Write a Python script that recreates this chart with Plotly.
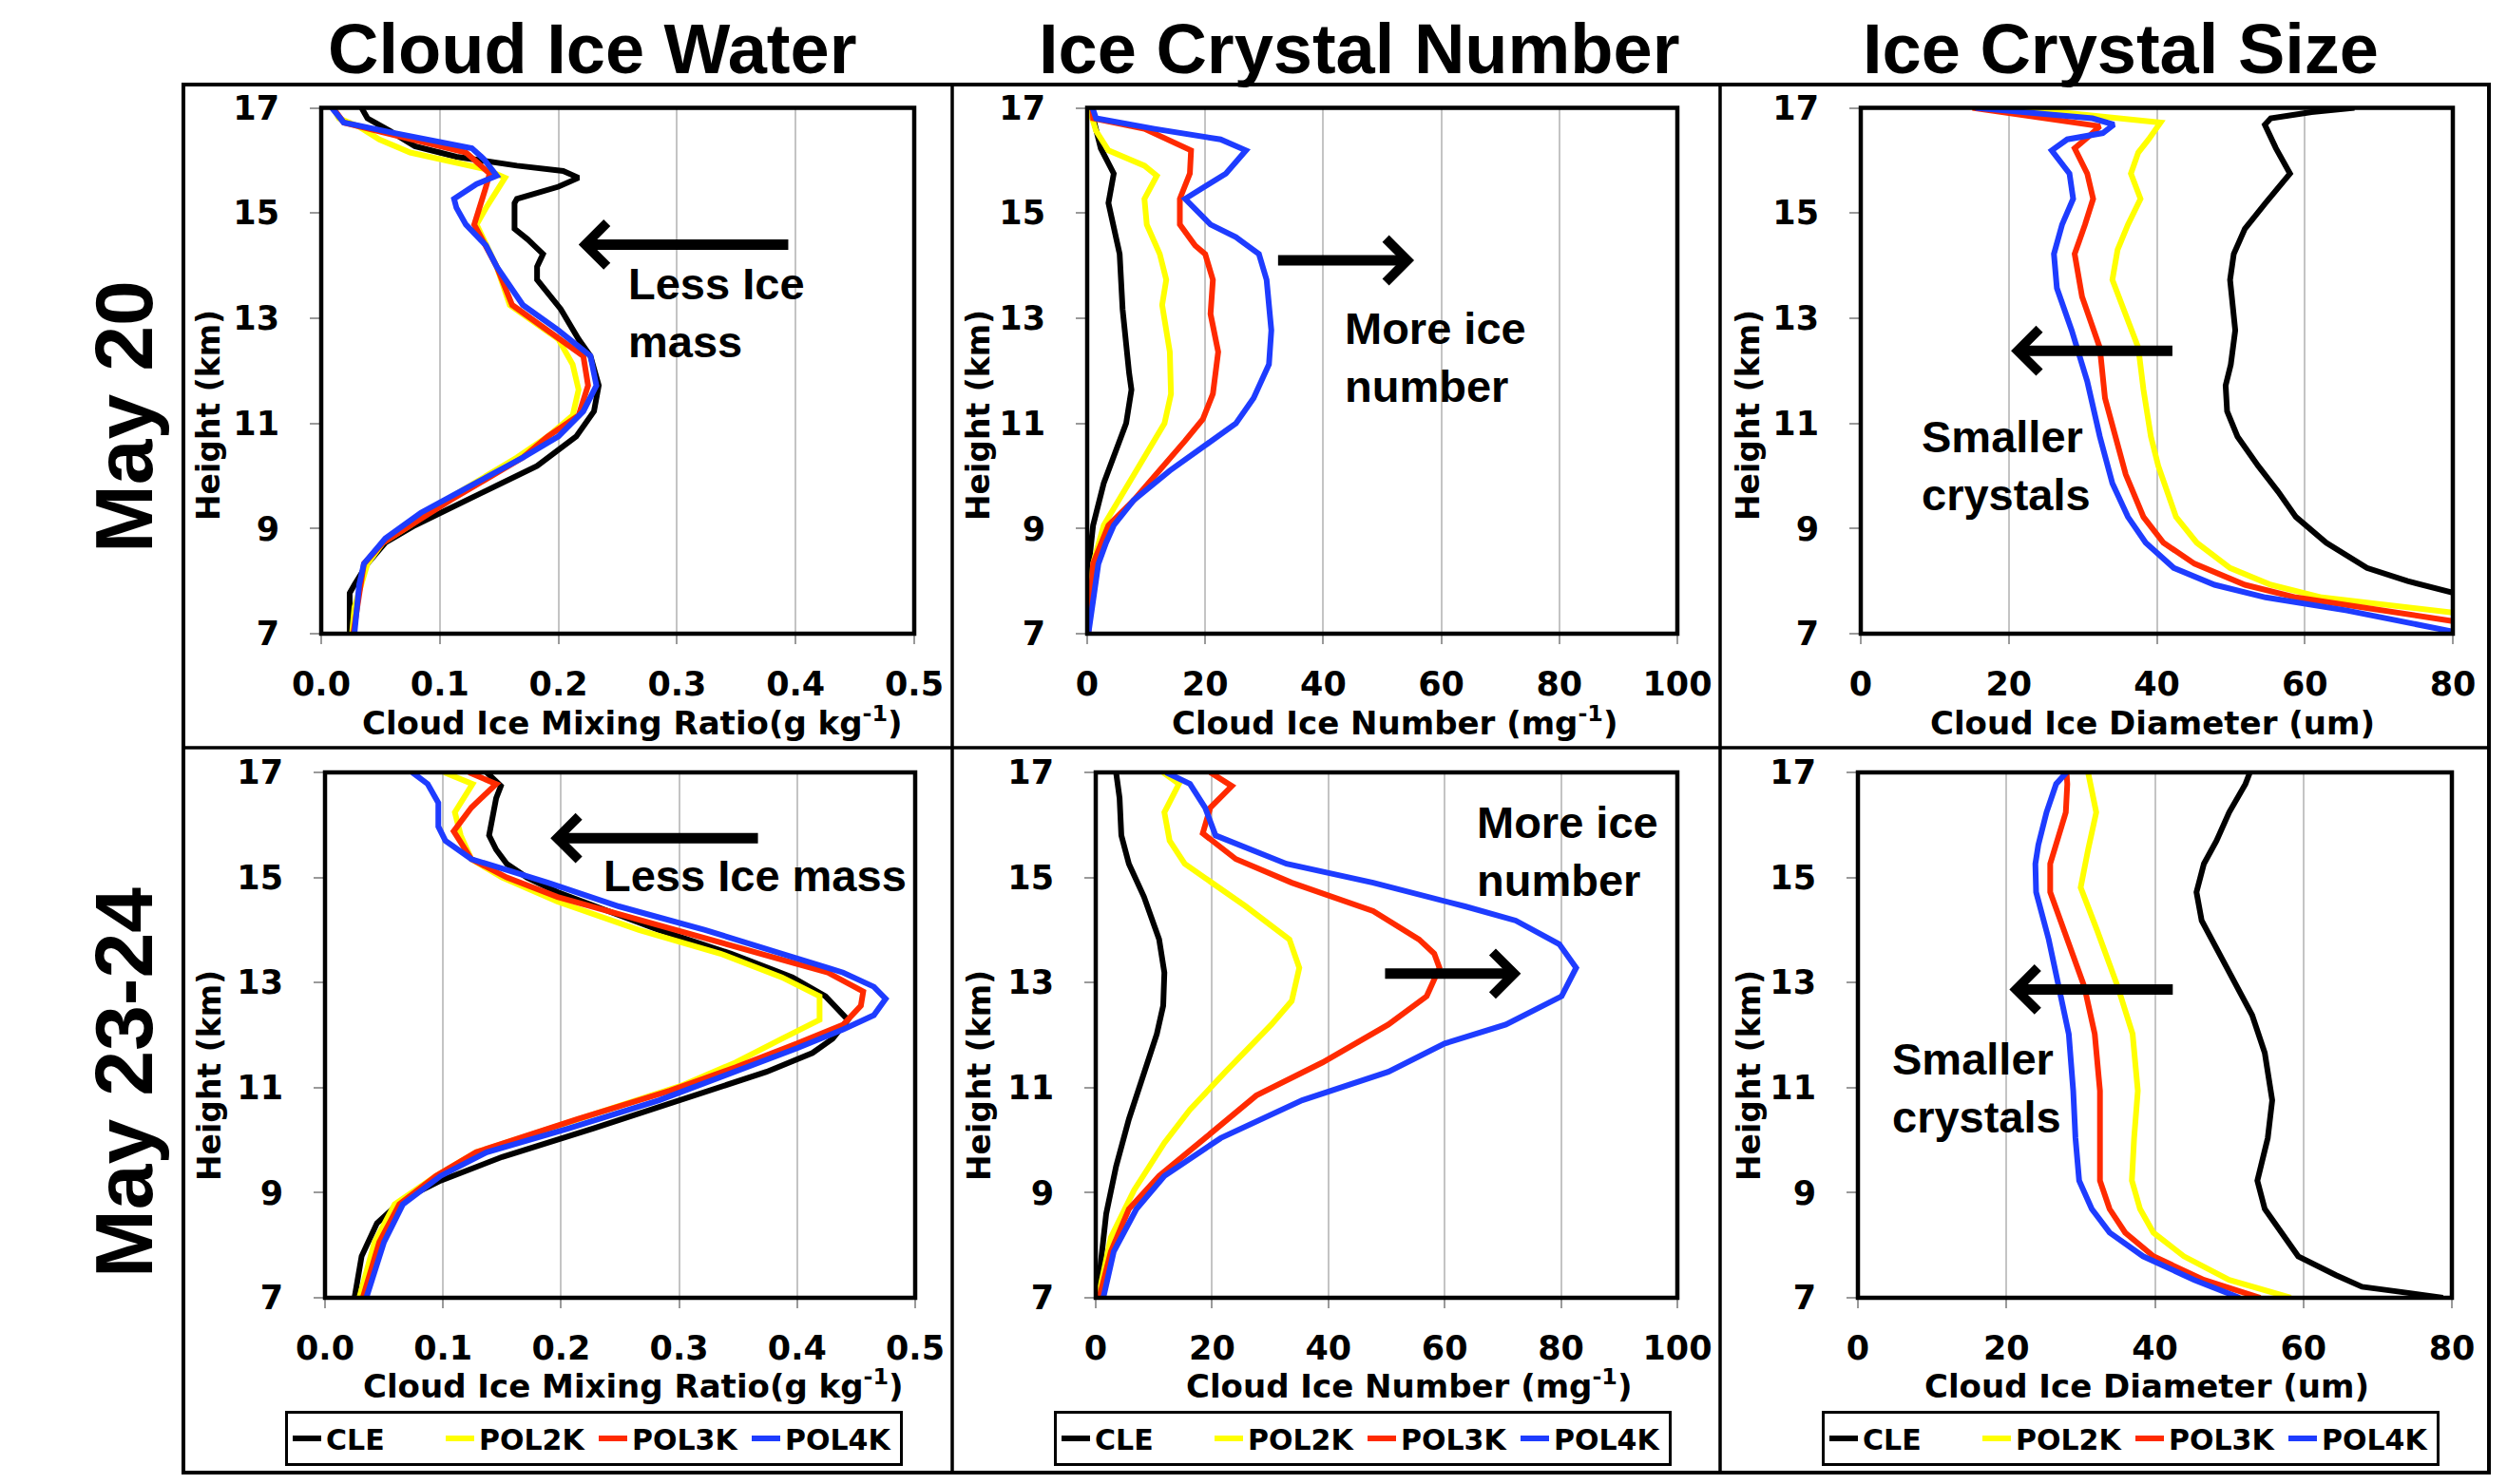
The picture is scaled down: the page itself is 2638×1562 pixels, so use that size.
import plotly.graph_objects as go

W, H = 2638, 1562

SERIES = ["CLE", "POL2K", "POL3K", "POL4K"]
COLORS = ["#000000", "#FFFF00", "#FF2A00", "#1E3CFF"]
HEIGHT_TICKS = [7, 9, 11, 13, 15, 17]
COLUMN_TITLES = ["Cloud Ice Water", "Ice Crystal Number", "Ice Crystal Size"]
ROW_TITLES = ["May 20", "May 23-24"]
X_TITLES = ["Cloud Ice Mixing Ratio(g kg<sup>-1</sup>)",
            "Cloud Ice Number (mg<sup>-1</sup>)",
            "Cloud Ice Diameter (um)"]

# ---- May 20 : cloud ice mixing ratio (g/kg) as (height km, value) ----
qi20_cle = [(17.0, 0.034), (16.8, 0.039), (16.56, 0.058), (16.27, 0.079), (16.07, 0.114),
            (15.9, 0.165), (15.8, 0.204), (15.67, 0.217), (15.5, 0.200), (15.27, 0.165),
            (15.19, 0.163), (14.7, 0.163), (14.5, 0.174), (14.22, 0.187), (13.98, 0.182),
            (13.73, 0.182), (13.17, 0.202), (12.6, 0.217), (12.28, 0.227), (11.72, 0.234),
            (11.23, 0.230), (10.75, 0.215), (10.19, 0.182), (9.54, 0.122), (9.06, 0.079),
            (8.73, 0.054), (8.33, 0.039), (7.93, 0.028), (7.77, 0.024), (7.0, 0.024)]
qi20_pol2k = [(17.0, 0.010), (16.8, 0.015), (16.64, 0.032), (16.4, 0.049), (16.15, 0.075),
              (15.95, 0.114), (15.83, 0.139), (15.67, 0.155), (15.43, 0.148), (15.1, 0.139),
              (14.78, 0.131), (14.38, 0.139), (13.98, 0.148), (13.25, 0.159), (12.6, 0.200),
              (12.12, 0.212), (11.64, 0.217), (11.15, 0.212), (10.75, 0.191), (10.35, 0.165),
              (9.54, 0.105), (9.06, 0.075), (8.73, 0.052), (8.33, 0.039), (7.5, 0.028), (7.0, 0.026)]
qi20_pol3k = [(17.0, 0.010), (16.72, 0.019), (16.48, 0.062), (16.15, 0.122), (15.75, 0.142),
              (15.5, 0.139), (14.78, 0.129), (14.38, 0.139), (13.98, 0.148), (13.25, 0.161),
              (12.77, 0.191), (12.28, 0.221), (11.72, 0.225), (11.15, 0.217), (10.75, 0.191),
              (10.35, 0.170), (9.54, 0.109), (9.06, 0.075), (8.73, 0.052), (8.33, 0.036), (7.0, 0.027)]
qi20_pol4k = [(17.0, 0.009), (16.72, 0.019), (16.52, 0.062), (16.23, 0.127), (16.03, 0.137),
              (15.71, 0.148), (15.55, 0.131), (15.27, 0.112), (15.1, 0.114), (14.78, 0.122),
              (14.38, 0.139), (13.98, 0.148), (13.25, 0.170), (12.77, 0.200), (12.28, 0.227),
              (11.72, 0.232), (11.23, 0.221), (10.75, 0.200), (10.35, 0.170), (9.78, 0.122),
              (9.3, 0.084), (8.81, 0.054), (8.33, 0.036), (7.93, 0.032), (7.0, 0.028)]

# ---- May 20 : cloud ice number (1/mg) ----
qn20_cle = [(17.0, 0.6), (16.8, 1.0), (16.23, 2.3), (15.75, 4.5), (15.19, 3.6), (14.22, 5.5),
            (13.17, 6.0), (11.96, 7.1), (11.64, 7.5), (11.0, 6.6), (10.5, 4.9), (9.86, 2.8),
            (9.06, 1.0), (8.33, 0.3), (7.0, 0.0)]
qn20_pol2k = [(17.0, 0.3), (16.56, 1.5), (16.19, 3.6), (15.9, 9.7), (15.71, 11.8), (15.27, 9.7),
              (14.78, 10.1), (14.22, 12.3), (13.73, 13.4), (13.25, 12.7), (12.36, 14.0),
              (11.56, 14.2), (11.0, 13.1), (10.35, 9.7), (9.7, 6.2), (9.06, 2.8), (8.33, 1.0), (7.0, 0.0)]
qn20_pol3k = [(17.0, 0.9), (16.8, 1.0), (16.6, 9.7), (16.19, 17.6), (15.75, 17.4), (15.27, 15.7),
              (14.78, 15.7), (14.38, 18.3), (14.22, 20.0), (13.73, 21.3), (13.08, 20.9),
              (12.36, 22.2), (11.56, 21.3), (11.08, 19.6), (10.67, 16.6), (10.1, 12.3),
              (9.54, 7.9), (9.06, 3.6), (8.33, 1.0), (7.0, 0.2)]
qn20_pol4k = [(17.0, 0.9), (16.8, 1.5), (16.6, 11.4), (16.4, 22.6), (16.19, 26.9), (15.75, 23.5),
              (15.27, 16.6), (14.78, 20.9), (14.54, 25.2), (14.22, 29.1), (13.73, 30.4),
              (12.77, 31.2), (12.12, 30.8), (11.48, 28.2), (11.0, 25.2), (10.59, 20.0),
              (10.1, 14.0), (9.54, 7.9), (9.06, 4.5), (8.73, 3.2), (8.33, 1.9), (7.0, 0.2)]

# ---- May 20 : cloud ice diameter (um) ----
qd20_cle = [(17.0, 66.7), (16.92, 60.9), (16.8, 55.4), (16.68, 54.6), (16.23, 56.1), (15.75, 58.0),
            (15.19, 54.7), (14.7, 51.9), (14.22, 50.4), (13.73, 49.9), (12.77, 50.6), (12.12, 50.0),
            (11.72, 49.3), (11.23, 49.5), (10.75, 50.9), (10.19, 53.7), (9.7, 56.4), (9.22, 58.8),
            (8.73, 62.9), (8.25, 68.4), (8.0, 73.9), (7.78, 80.0)]
qd20_pol2k = [(17.0, 21.1), (16.72, 40.5), (16.4, 38.9), (16.15, 37.5), (15.75, 36.5), (15.27, 37.8),
              (14.78, 36.1), (14.3, 34.7), (13.73, 34.0), (13.08, 35.8), (12.44, 37.5), (11.64, 38.2),
              (10.75, 39.2), (10.19, 40.2), (9.22, 42.6), (8.73, 45.4), (8.25, 49.9), (7.93, 55.4),
              (7.69, 62.3), (7.4, 80.0)]
qd20_pol3k = [(17.0, 15.1), (16.65, 32.3), (16.48, 31.0), (16.23, 28.9), (15.75, 30.6), (15.27, 31.4),
              (14.78, 30.3), (14.22, 28.9), (13.41, 29.9), (12.44, 32.3), (11.48, 33.0), (10.75, 34.4),
              (10.03, 35.8), (9.22, 38.2), (8.73, 40.9), (8.33, 45.1), (7.93, 51.9), (7.69, 58.8),
              (7.24, 80.0)]
qd20_pol4k = [(17.0, 15.5), (16.8, 31.3), (16.68, 34.2), (16.52, 32.7), (16.4, 27.9), (16.19, 25.8),
              (15.75, 28.2), (15.27, 28.7), (14.78, 27.2), (14.22, 26.1), (13.57, 26.5), (12.77, 28.5),
              (11.8, 30.6), (10.75, 32.3), (9.86, 34.0), (9.22, 36.1), (8.73, 38.5), (8.25, 42.3),
              (7.93, 47.8), (7.69, 54.7), (7.44, 65.7), (7.04, 80.0)]

# ---- May 23-24 : cloud ice mixing ratio (g/kg) ----
qi23_cle = [(17.0, 0.137), (16.87, 0.143), (16.74, 0.149), (16.51, 0.145), (16.15, 0.142),
            (15.8, 0.139), (15.53, 0.145), (15.26, 0.154), (15.0, 0.171), (14.72, 0.197),
            (14.36, 0.240), (14.0, 0.283), (13.55, 0.344), (13.1, 0.396), (12.74, 0.424),
            (12.29, 0.443), (11.93, 0.430), (11.66, 0.413), (11.3, 0.374), (10.76, 0.301),
            (10.22, 0.227), (9.68, 0.150), (9.23, 0.098), (8.87, 0.066), (8.42, 0.044),
            (7.79, 0.031), (7.0, 0.025)]
qi23_pol2k = [(17.0, 0.101), (16.78, 0.125), (16.24, 0.110), (15.8, 0.115), (15.35, 0.124),
              (15.0, 0.150), (14.54, 0.197), (14.0, 0.266), (13.55, 0.335), (13.1, 0.387),
              (12.74, 0.419), (12.29, 0.419), (11.93, 0.387), (11.48, 0.348), (11.03, 0.301),
              (10.4, 0.214), (9.77, 0.128), (9.32, 0.094), (8.78, 0.059), (8.06, 0.042), (7.0, 0.029)]
qi23_pol3k = [(17.0, 0.122), (16.78, 0.145), (16.33, 0.124), (15.88, 0.109), (15.35, 0.124),
              (15.0, 0.154), (14.63, 0.197), (14.09, 0.283), (13.64, 0.357), (13.19, 0.426),
              (12.83, 0.456), (12.56, 0.454), (12.2, 0.439), (11.84, 0.400), (11.39, 0.348),
              (10.94, 0.292), (10.4, 0.214), (9.77, 0.128), (9.32, 0.094), (8.78, 0.063),
              (8.06, 0.046), (7.0, 0.032)]
qi23_pol4k = [(17.0, 0.074), (16.78, 0.087), (16.42, 0.096), (15.97, 0.096), (15.7, 0.102),
              (15.35, 0.124), (15.17, 0.150), (14.9, 0.189), (14.45, 0.249), (14.0, 0.322),
              (13.55, 0.387), (13.19, 0.439), (12.92, 0.465), (12.69, 0.475), (12.38, 0.465),
              (12.11, 0.439), (11.75, 0.400), (11.3, 0.348), (10.76, 0.283), (10.22, 0.206),
              (9.77, 0.137), (9.32, 0.098), (8.78, 0.066), (8.06, 0.050), (7.0, 0.035)]

# ---- May 23-24 : cloud ice number (1/mg) ----
qn23_cle = [(17.0, 3.5), (16.51, 4.1), (15.8, 4.4), (15.26, 5.7), (14.63, 8.3), (13.82, 10.9),
            (13.19, 11.8), (12.56, 11.6), (12.02, 10.5), (11.3, 8.3), (10.4, 5.7), (9.5, 3.5),
            (8.6, 1.8), (7.7, 0.9), (7.0, 0.3)]
qn23_pol2k = [(17.0, 11.6), (16.78, 14.3), (16.24, 11.8), (15.7, 12.7), (15.26, 15.3), (14.9, 20.1),
              (14.45, 25.8), (13.82, 33.3), (13.28, 35.0), (12.65, 33.7), (12.2, 30.2), (11.3, 22.3),
              (10.58, 16.2), (9.95, 11.8), (9.05, 6.6), (8.15, 2.6), (7.0, 0.4)]
qn23_pol3k = [(17.0, 19.7), (16.74, 23.4), (16.33, 19.7), (15.84, 18.4), (15.35, 24.1), (14.9, 33.7),
              (14.36, 47.7), (13.82, 55.6), (13.55, 58.2), (13.28, 59.1), (12.74, 56.9), (12.2, 50.3),
              (11.48, 39.0), (10.85, 27.6), (10.04, 18.8), (9.32, 10.9), (8.69, 5.7), (7.88, 2.6),
              (7.0, 0.6)]
qn23_pol4k = [(17.0, 12.1), (16.78, 16.2), (16.33, 18.8), (15.8, 20.6), (15.26, 32.8), (14.9, 47.7),
              (14.45, 63.5), (14.18, 72.2), (13.73, 79.7), (13.28, 82.6), (12.74, 80.1), (12.2, 70.5),
              (11.84, 60.0), (11.3, 50.3), (10.76, 35.5), (10.04, 21.5), (9.32, 11.8), (8.69, 7.0),
              (7.88, 3.1), (7.0, 1.3)]

# ---- May 23-24 : cloud ice diameter (um) ----
qd23_cle = [(17.0, 52.8), (16.78, 52.2), (16.24, 50.0), (15.7, 48.3), (15.26, 46.6), (14.72, 45.6),
            (14.18, 46.3), (13.55, 48.7), (12.92, 51.1), (12.38, 53.1), (11.66, 54.8), (10.76, 55.8),
            (10.04, 55.2), (9.23, 53.8), (8.69, 54.8), (8.15, 57.6), (7.79, 59.3), (7.43, 64.4),
            (7.21, 67.9), (7.12, 72.7), (7.0, 78.8)]
qd23_pol2k = [(17.0, 31.0), (16.24, 32.1), (15.53, 31.0), (14.81, 30.0), (14.0, 32.2), (12.92, 35.0),
              (12.02, 37.0), (10.94, 37.7), (10.04, 37.2), (9.23, 36.9), (8.69, 38.0), (8.24, 39.8),
              (7.79, 43.9), (7.34, 50.0), (7.0, 58.3)]
qd23_pol3k = [(17.0, 28.1), (16.78, 28.2), (16.24, 28.0), (15.62, 26.6), (15.26, 25.9), (14.72, 25.9),
              (13.82, 28.1), (12.92, 30.5), (12.02, 31.9), (10.94, 32.6), (10.04, 32.6), (9.23, 32.6),
              (8.69, 33.9), (8.24, 36.0), (7.79, 39.8), (7.34, 46.6), (7.0, 54.2)]
qd23_pol4k = [(17.0, 28.1), (16.78, 26.7), (16.24, 25.4), (15.62, 24.3), (15.26, 23.9), (14.72, 24.0),
              (13.82, 25.7), (12.92, 27.1), (12.02, 28.4), (10.94, 29.0), (10.04, 29.3), (9.23, 29.8),
              (8.69, 31.5), (8.24, 33.9), (7.79, 38.4), (7.34, 45.3), (7.0, 51.4)]

# ---- text callouts: (text, x, y) in data units, arrows: (head x, tail x, y) ----
callouts = [
    ("Less Ice<br>mass", 0.257, 13.11, (0.217, 0.395, 14.40)),
    ("More ice<br>number", 43.3, 12.26, (55.4, 32.1, 14.10)),
    ("Smaller<br>crystals", 8.0, 10.20, (20.3, 42.3, 12.38)),
    ("Less Ice mass", 0.234, 15.03, (0.191, 0.368, 15.75)),
    ("More ice<br>number", 65.2, 15.50, (73.1, 49.5, 13.17)),
    ("Smaller<br>crystals", 4.3, 11.00, (20.4, 42.6, 12.87)),
]

# panel layout: data, x-axis max, tick step, tick format, plot box in pixels (l, r, t, b)
panels = [
    dict(data=[qi20_cle, qi20_pol2k, qi20_pol3k, qi20_pol4k], xmax=0.5, step=0.1, fmt=".1f", box=(338, 962, 113.5, 667)),
    dict(data=[qn20_cle, qn20_pol2k, qn20_pol3k, qn20_pol4k], xmax=100, step=20, fmt="d", box=(1144, 1765, 113.5, 667)),
    dict(data=[qd20_cle, qd20_pol2k, qd20_pol3k, qd20_pol4k], xmax=80, step=20, fmt="d", box=(1958, 2581, 113.5, 667)),
    dict(data=[qi23_cle, qi23_pol2k, qi23_pol3k, qi23_pol4k], xmax=0.5, step=0.1, fmt=".1f", box=(342, 963, 813, 1366)),
    dict(data=[qn23_cle, qn23_pol2k, qn23_pol3k, qn23_pol4k], xmax=100, step=20, fmt="d", box=(1153, 1765, 813, 1366)),
    dict(data=[qd23_cle, qd23_pol2k, qd23_pol3k, qd23_pol4k], xmax=80, step=20, fmt="d", box=(1955, 2580, 813, 1366)),
]


def fx(px):
    return px / W


def fy(py):
    return 1 - py / H


TICK_FONT = dict(family="DejaVu Sans", size=35, color="black", weight="bold")
LABEL_FONT = dict(family="DejaVu Sans", size=34, color="black", weight="bold")
YLABEL_FONT = dict(family="DejaVu Sans", size=33, color="black", weight="bold")
NOTE_FONT = dict(family="Liberation Sans", size=47, color="black", weight="bold")
HEAD_FONT = dict(family="Liberation Sans", size=74, color="black", weight="bold")
ROW_FONT = dict(family="Liberation Sans", size=86, color="black", weight="bold")

fig = go.Figure()
layout = {}
shapes = []
annotations = []

for i, p in enumerate(panels):
    k = "" if i == 0 else str(i + 1)
    xname, yname = "x" + k, "y" + k
    bottom_row = i >= 3
    col = i % 3
    legend_name = "legend" if col == 0 else "legend" + str(col + 1)
    for s, (series, color) in enumerate(zip(SERIES, COLORS)):
        pts = p["data"][s]
        fig.add_trace(go.Scatter(
            x=[v for _, v in pts], y=[z for z, _ in pts], mode="lines", name=series,
            line=dict(color=color, width=6), xaxis=xname, yaxis=yname,
            showlegend=bottom_row, legend=legend_name,
            hoverinfo="x+y+name"))

    l, r, t, b = p["box"]
    n = int(round(p["xmax"] / p["step"]))
    xt = [round(j * p["step"], 3) for j in range(n + 1)]
    layout["xaxis" + k] = dict(
        domain=[fx(l), fx(r)], range=[0, p["xmax"]], anchor=yname, automargin=False,
        tickvals=xt, tickformat=p["fmt"], showgrid=True, gridcolor="#c4c4c4", gridwidth=1.5,
        ticks="outside", ticklen=10, tickwidth=1.5, tickcolor="#9a9a9a",
        tickfont=TICK_FONT, ticklabelstandoff=12, zeroline=False, showline=False,
        fixedrange=True)
    layout["yaxis" + k] = dict(
        domain=[fy(b), fy(t)], range=[7, 17], anchor=xname, automargin=False,
        tickvals=HEIGHT_TICKS, showgrid=False, ticks="outside", ticklen=11, tickwidth=1.5,
        tickcolor="#9a9a9a", tickfont=TICK_FONT, ticklabelstandoff=25,
        zeroline=False, showline=False, fixedrange=True)

    # heavy frame around each plotting area
    shapes.append(dict(type="rect", xref=xname + " domain", yref=yname + " domain",
                       x0=0, x1=1, y0=0, y1=1, line=dict(color="black", width=4.5)))

    # axis titles
    xc = [665, 1467, 2265, 666, 1482, 2259][i]
    annotations.append(dict(text=X_TITLES[col], xref="paper", yref="paper",
                            x=fx(xc), y=fy(783 if not bottom_row else 1481),
                            xanchor="center", yanchor="bottom", showarrow=False, font=LABEL_FONT))
    annotations.append(dict(text="Height (km)", xref="paper", yref="paper",
                            x=fx([220, 1030, 1840][col]), y=fy(437 if not bottom_row else 1132),
                            textangle=-90, xanchor="center", yanchor="middle", showarrow=False,
                            font=YLABEL_FONT))

    # callout text and arrow
    text, tx, ty, (hx, tlx, ay) = callouts[i]
    annotations.append(dict(text=text, x=tx, y=ty, xref=xname, yref=yname, xanchor="left",
                            yanchor="middle", align="left", showarrow=False, font=NOTE_FONT))
    annotations.append(dict(text="", x=hx, y=ay, ax=tlx, ay=ay, xref=xname, yref=yname,
                            axref=xname, ayref=yname, showarrow=True, arrowhead=4,
                            arrowwidth=11, arrowsize=0.8, arrowcolor="black", standoff=0))

# column headers and row labels
for text, xc in zip(COLUMN_TITLES, [623, 1430, 2231]):
    annotations.append(dict(text=text, xref="paper", yref="paper", x=fx(xc), y=fy(52),
                            xanchor="center", yanchor="middle", showarrow=False, font=HEAD_FONT))
for text, yc in zip(ROW_TITLES, [439, 1140]):
    annotations.append(dict(text=text, xref="paper", yref="paper", x=fx(130), y=fy(yc),
                            textangle=-90, xanchor="center", yanchor="middle", showarrow=False,
                            font=ROW_FONT))

# outer table frame
shapes.append(dict(type="rect", xref="paper", yref="paper", x0=fx(193), x1=fx(2619),
                   y0=fy(1550), y1=fy(89), line=dict(color="black", width=4)))
shapes.append(dict(type="line", xref="paper", yref="paper", x0=fx(193), x1=fx(2619),
                   y0=fy(787), y1=fy(787), line=dict(color="black", width=3.5)))
for xv in (1002, 1810):
    shapes.append(dict(type="line", xref="paper", yref="paper", x0=fx(xv), x1=fx(xv),
                       y0=fy(1550), y1=fy(89), line=dict(color="black", width=3.5)))

LEGEND_FONT = dict(family="DejaVu Sans", size=30, color="black", weight="bold")
for j, lx in enumerate([300, 1109, 1917]):
    name = "legend" if j == 0 else "legend" + str(j + 1)
    layout[name] = dict(orientation="h", x=fx(lx), y=fy(1485), xanchor="left", yanchor="top",
                        bgcolor="white", bordercolor="black", borderwidth=3, font=LEGEND_FONT,
                        itemwidth=30, entrywidth=116, entrywidthmode="pixels",
                        traceorder="normal")

fig.update_layout(width=W, height=H, margin=dict(l=0, r=0, t=0, b=0, pad=0, autoexpand=False),
                  paper_bgcolor="white", plot_bgcolor="white", showlegend=True,
                  shapes=shapes, annotations=annotations, **layout)

fig.write_html("out.html")
